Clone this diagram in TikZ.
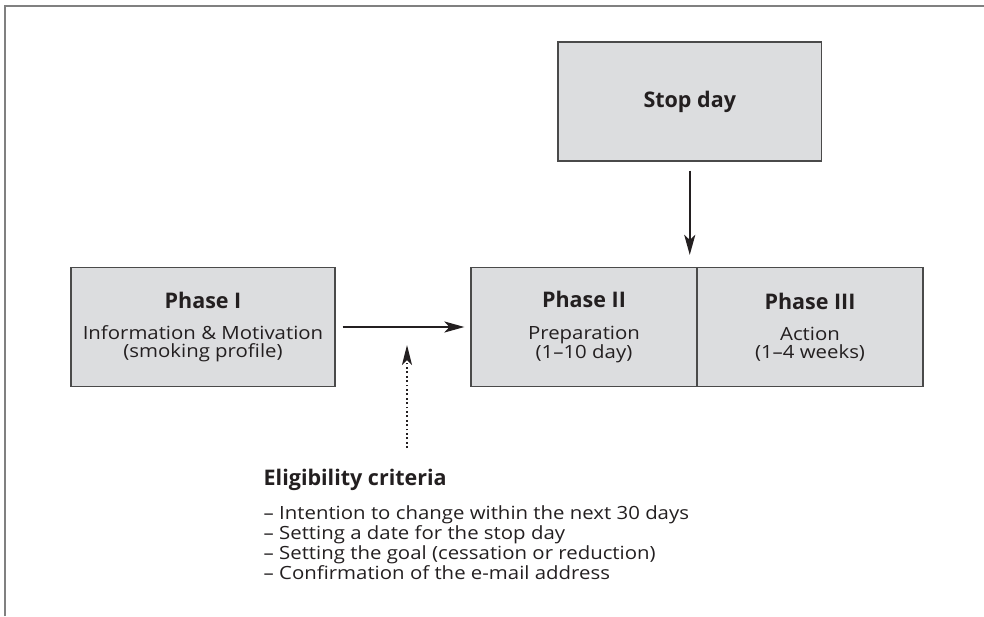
\documentclass[tikz,border=0pt]{standalone}
\usepackage{fontspec}
\setmainfont{Open Sans}[FakeStretch=1.12]
\newfontfamily\ttlfont{Open Sans}[FakeStretch=1.0]
\usetikzlibrary{arrows.meta}
\definecolor{boxfill}{HTML}{DCDDDF}
\definecolor{boxline}{HTML}{4A4A4A}
\definecolor{ink}{HTML}{231F20}
\definecolor{frame}{HTML}{808080}
\newcommand{\ttltext}[1]{{\ttlfont\fontsize{21.5}{24}\selectfont\bfseries #1}}
\begin{document}
\begin{tikzpicture}[x=1pt,y=-1pt,
  box/.style={draw=boxline,line width=1.2pt,fill=boxfill,inner sep=0pt,
    minimum height=119pt,text=ink,align=center,
    font=\fontsize{18.2}{17.7}\selectfont},
  arr/.style={-{Stealth[length=20pt,width=11pt,inset=5pt]},line width=2.3pt,draw=ink},
  dotarr/.style={-{Stealth[length=20pt,width=10pt,inset=5pt]},line width=2pt,draw=ink,
    dash pattern=on 1.8pt off 2.6pt},
]
\useasboundingbox (0,0) rectangle (984,616);
\draw[line width=1.2pt, draw=frame] (5,616) -- (5,6) -- (984,6);

\node[box,minimum width=264pt] (p1) at (203,327)
  {\ttltext{Phase I}\\[14pt]Information \& Motivation\\(smoking profile)};
\node[box,minimum width=226pt] (p2) at (584,327)
  {\ttltext{Phase II}\\[14pt]Preparation\\(1–10 day)};
\node[box,minimum width=226pt] (p3) at (810,327)
  {\ttltext{Phase III}\\[14pt]Action\\(1–4 weeks)};
\node[box,minimum width=263.5pt] (stop) at (689.75,101.5)
  {\ttltext{Stop day}};

\node[anchor=base west,inner sep=0pt,align=left,text=ink,
  font=\fontsize{18.2}{20}\selectfont] (elig) at (263.5,579.5)
  {\ttltext{Eligibility criteria}\\[14pt]
   – Intention to change within the next 30 days\\
   – Setting a date for the stop day\\
   – Setting the goal (cessation or reduction)\\
   – Confirmation of the e-mail address};

\draw[arr,shorten <=9pt,shorten >=12pt] (stop.south) -- (stop.south |- p2.north);
\draw[arr,shorten <=7pt,shorten >=6pt] (p1.east) -- (p2.west);
\coordinate (dtip) at (407,345);
\coordinate (dbot) at (407,448);
\draw[dotarr] (dbot) -- (dtip);
\end{tikzpicture}
\end{document}
